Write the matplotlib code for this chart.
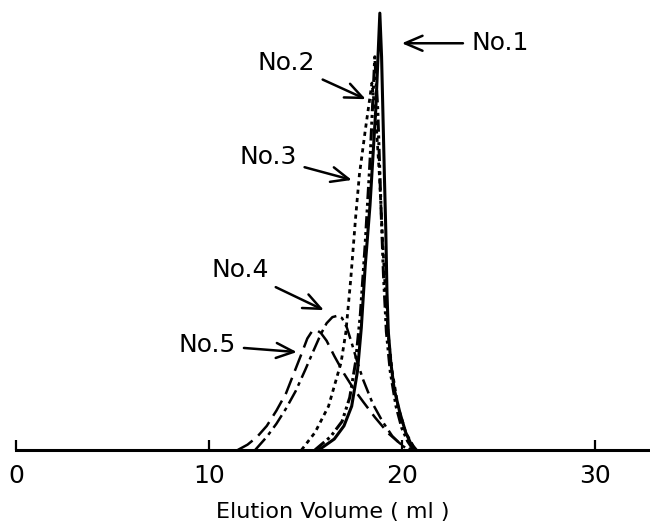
import matplotlib.pyplot as plt

plt.rcParams["font.family"] = "DejaVu Sans"

# elution profiles, x in ml, y in relative absorbance (peak of No.1 = 100)
x_no1 = [15.7, 16.5, 17.0, 17.4, 17.7, 17.9, 18.1, 18.35, 18.65, 18.86, 18.95, 19.02,
         19.1, 19.17, 19.23, 19.3, 19.43, 19.6, 19.9, 20.2, 20.45, 20.75]
y_no1 = [0, 2.5, 5.5, 10, 18, 28, 42, 56, 78, 100, 90, 77,
         62, 50, 36, 27, 20, 14, 8.5, 4, 1.6, 0]

x_no2 = [15.5, 16.3, 16.9, 17.3, 17.6, 17.85, 18.1, 18.35, 18.6, 18.75, 18.9,
         19.05, 19.2, 19.4, 19.7, 20.0, 20.3, 20.6]
y_no2 = [0, 3, 6.5, 12, 20, 31, 47, 66, 90, 78, 58,
         40, 27, 18, 10, 5, 2, 0]

x_no3 = [14.8, 15.5, 16.2, 16.85, 17.1, 17.35, 17.6, 17.8, 18.1, 18.45, 18.65,
         18.85, 19.0, 19.15, 19.3, 19.5, 19.8, 20.2, 20.7]
y_no3 = [0, 4, 10, 20, 27, 39, 53, 63, 73, 84, 76,
         62, 48, 36, 26, 18, 10, 4, 0]

x_no4 = [12.4, 13.0, 13.5, 14.0, 14.5, 15.0, 15.4, 15.8, 16.1, 16.4, 16.65,
         16.9, 17.15, 17.4, 17.7, 18.0, 18.5, 19.0, 19.5, 20.0, 20.4]
y_no4 = [0, 3, 6, 9.5, 13.5, 18.4, 22.5, 26.5, 29, 30.4, 30.7,
         30.2, 28, 24.5, 20, 16, 10.5, 6.5, 3.2, 1, 0]

x_no5 = [11.5, 12.0, 12.5, 13.0, 13.5, 14.0, 14.4, 14.8, 15.1, 15.35, 15.55,
         15.8, 16.1, 16.5, 17.0, 17.5, 18.0, 18.6, 19.3, 19.9, 20.5]
y_no5 = [0, 1.2, 3, 5.5, 9, 13, 17.5, 22, 25.5, 27.2, 27.5,
         26.8, 25, 21.5, 17.5, 14, 11, 7.5, 3.8, 1.5, 0]

xticks = [0, 10, 20, 30]

# label text position and arrow tip, in data units
labels = ["No.1", "No.2", "No.3", "No.4", "No.5"]
label_xy = [(23.6, 93.1), (14.0, 88.6), (13.05, 67.0), (11.6, 41.2), (9.9, 24.0)]
tip_xy = [(20.0, 93.1), (18.13, 80.3), (17.41, 61.8), (15.96, 32.0), (14.56, 22.4)]

fig = plt.figure(figsize=(6.5, 5.25), dpi=100)
ax = fig.add_axes([0.0246, 0.143, 0.975, 0.832])

ax.plot(x_no5, y_no5, color="k", lw=1.8, ls=(0, (7, 3)), clip_on=False)
ax.plot(x_no4, y_no4, color="k", lw=1.8, ls=(0, (6, 2, 1.5, 2)), clip_on=False)
ax.plot(x_no3, y_no3, color="k", lw=2.0, ls=(0, (1.5, 1.5)), clip_on=False)
ax.plot(x_no2, y_no2, color="k", lw=2.2, ls=(0, (4, 1.2, 1, 1.2, 1, 1.2)), clip_on=False)
ax.plot(x_no1, y_no1, color="k", lw=2.2, ls="-", clip_on=False)

for i, lab in enumerate(labels):
    ha = "left" if i == 0 else "center"
    ax.annotate(lab, xy=tip_xy[i], xytext=label_xy[i], ha=ha, va="center",
                fontsize=18, color="k",
                arrowprops=dict(arrowstyle="->,head_length=0.7,head_width=0.3",
                                color="k", lw=1.8, shrinkA=4, shrinkB=0))

ax.set_xlim(0, 32.85)
ax.set_ylim(0, 100)
ax.set_xticks(xticks)
ax.set_xticklabels([str(t) for t in xticks], fontsize=18)
ax.tick_params(axis="x", direction="in", length=7, width=1.6, pad=10)
ax.set_yticks([])
for s in ["left", "right", "top"]:
    ax.spines[s].set_visible(False)
ax.spines["bottom"].set_linewidth(2.2)
ax.set_xlabel("Elution Volume ( ml )", fontsize=16, labelpad=10)

fig.savefig("out.png", dpi=100)
